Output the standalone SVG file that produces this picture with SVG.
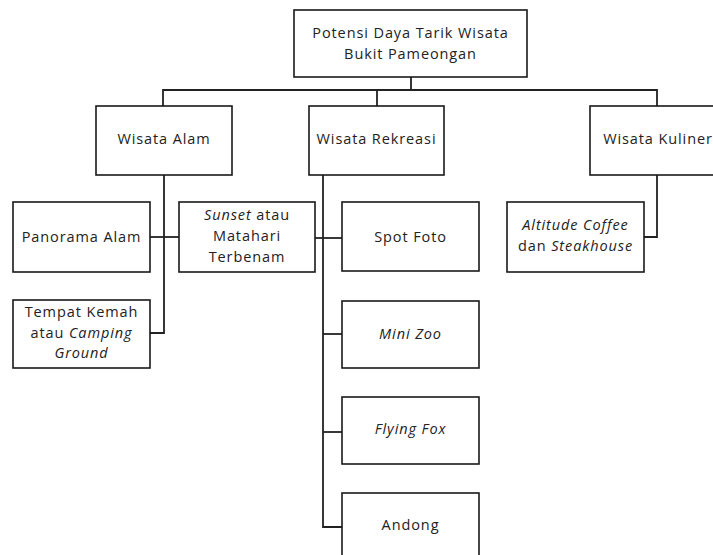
<svg xmlns="http://www.w3.org/2000/svg" width="713" height="555" viewBox="0 0 713 555">
<style>
.box{fill:#fff;stroke:#1a1a1a;stroke-width:1.6}
.ln{fill:none;stroke:#222;stroke-width:1.8}
text{font-family:"Open Sans","Noto Sans",sans-serif;font-size:14.5px;letter-spacing:0.9px;fill:#222;text-anchor:middle}
.i{font-style:italic}
</style>
<rect width="713" height="555" fill="#fff"/>
<g id="connectors">
<path class="ln" d="M411 77V90"/>
<path class="ln" d="M163 106V90H657V106" stroke="#444" stroke-width="2.2"/>
<path class="ln" d="M377 90V106"/>
<path class="ln" d="M164 175V333H150"/>
<path class="ln" d="M150 237H179"/>
<path class="ln" d="M323 175V527H342"/>
<path class="ln" d="M315 238H342"/>
<path class="ln" d="M323 334H342"/>
<path class="ln" d="M323 432H342"/>
<path class="ln" d="M657 175V237H644"/>
</g>
<g id="root"><rect class="box" x="294" y="10" width="233" height="67"/>
<text x="410.5" y="38">Potensi Daya Tarik Wisata</text>
<text x="410.5" y="59">Bukit Pameongan</text></g>
<g id="alam"><rect class="box" x="96" y="106" width="136" height="69"/>
<text x="164" y="144">Wisata Alam</text></g>
<g id="rekreasi"><rect class="box" x="309" y="106" width="135" height="69"/>
<text x="376.5" y="144">Wisata Rekreasi</text></g>
<g id="kuliner"><rect class="box" x="590" y="106" width="136" height="69"/>
<text x="658" y="144">Wisata Kuliner</text></g>
<g id="panorama"><rect class="box" x="13" y="202" width="137" height="70"/>
<text x="81.5" y="242">Panorama Alam</text></g>
<g id="sunset"><rect class="box" x="179" y="202" width="136" height="70"/>
<text x="247" y="220"><tspan class="i">Sunset</tspan> atau</text>
<text x="247" y="241">Matahari</text>
<text x="247" y="262">Terbenam</text></g>
<g id="kemah"><rect class="box" x="13" y="300" width="137" height="68"/>
<text x="81.5" y="317">Tempat Kemah</text>
<text x="81.5" y="338">atau <tspan class="i">Camping</tspan></text>
<text x="81.5" y="358" class="i">Ground</text></g>
<g id="spotfoto"><rect class="box" x="342" y="202" width="137" height="69"/>
<text x="410.5" y="242">Spot Foto</text></g>
<g id="minizoo"><rect class="box" x="342" y="301" width="137" height="67"/>
<text x="410.5" y="339" class="i">Mini Zoo</text></g>
<g id="flyingfox"><rect class="box" x="342" y="397" width="137" height="67"/>
<text x="410.5" y="434" class="i">Flying Fox</text></g>
<g id="andong"><rect class="box" x="342" y="493" width="137" height="68"/>
<text x="410.5" y="530">Andong</text></g>
<g id="altitude"><rect class="box" x="507" y="202" width="137" height="70"/>
<text x="575.5" y="230"><tspan class="i">Altitude Coffee</tspan></text>
<text x="575.5" y="251">dan <tspan class="i">Steakhouse</tspan></text></g>
</svg>
